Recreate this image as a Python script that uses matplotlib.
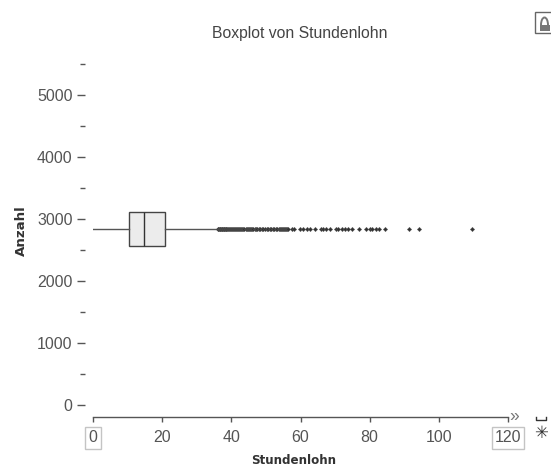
import matplotlib
matplotlib.use("Agg")
import matplotlib.pyplot as plt
from matplotlib.patches import Rectangle, Arc
from matplotlib.lines import Line2D

plt.rcParams['font.family'] = ['Liberation Sans', 'DejaVu Sans']

TITLE = "Boxplot von Stundenlohn"
XLABEL = "Stundenlohn"
YLABEL = "Anzahl"
n_obs = 2838
whisker_low = 0.0
q1 = 10.3
median = 14.8
q3 = 20.7
whisker_high = 36.0
outliers = [
    36.0, 36.2, 36.4, 36.6, 36.8, 37.0, 37.2, 37.4, 37.6, 37.8, 38.0, 38.2,
    38.4, 38.6, 38.8, 39.0, 39.3, 39.6, 39.9, 40.2, 40.5, 40.8, 41.1, 41.4,
    41.7, 42.0, 42.3, 42.6, 42.9, 43.2, 43.5, 43.8, 44.1, 44.4, 44.7, 45.0,
    45.3, 45.6, 45.9, 46.3, 46.7, 47.0, 47.5, 48.0, 48.4, 48.9, 49.3, 49.8,
    50.2, 50.7, 51.1, 51.6, 52.0, 52.4, 52.9, 53.3, 53.7, 54.1, 54.4, 54.7,
    55.0, 55.3, 55.6, 55.9, 56.2, 56.5,
    57.4, 58.1, 59.8, 60.8, 61.8, 62.7, 64.2, 65.8, 66.6, 67.5, 68.5, 70.4,
    70.9, 71.9, 72.8, 73.8, 74.8, 77.0, 78.8, 80.0, 80.8, 81.8, 82.8, 84.4,
    91.4, 94.3, 109.7,
]
x_ticks = [0, 20, 40, 60, 80, 100, 120]
y_major = [0, 1000, 2000, 3000, 4000, 5000]
y_minor = [500, 1500, 2500, 3500, 4500, 5500]

W, H = 551, 467
fig = plt.figure(figsize=(W / 100, H / 100), dpi=100, facecolor='white')
L, R, T, B = 93, 508, 64, 417
ax = fig.add_axes([L / W, 1 - B / H, (R - L) / W, (B - T) / H])
ax.set_xlim(0, 120)
ax.set_ylim(-193, 5500)

stats = [dict(whislo=whisker_low, q1=q1, med=median, q3=q3, whishi=whisker_high, fliers=outliers)]
ax.bxp(stats, positions=[n_obs], widths=[548], orientation='horizontal', showcaps=False,
       patch_artist=True, manage_ticks=False,
       boxprops=dict(facecolor='#ececec', edgecolor='#444444', linewidth=1.0),
       medianprops=dict(color='#333333', linewidth=1.0),
       whiskerprops=dict(color='#555555', linewidth=1.0),
       flierprops=dict(marker='D', markersize=2.2, markerfacecolor='#333333',
                       markeredgecolor='#555555', markeredgewidth=0.3, linestyle='none'))

for s in ['top', 'right', 'left']:
    ax.spines[s].set_visible(False)
ax.spines['bottom'].set_color('#555555')
ax.spines['bottom'].set_linewidth(1.0)
ax.spines['left'].set_position(('outward', 5.8))

ax.set_xticks(x_ticks)
ax.set_yticks(y_major)
ax.set_yticks(y_minor, minor=True)
ax.tick_params(axis='x', length=3.6, width=1, color='#555555', labelcolor='#555555', labelsize=11.5, pad=6)
ax.tick_params(axis='y', which='major', length=5.8, width=1, color='#555555', labelcolor='#555555', labelsize=11.5, pad=3)
ax.tick_params(axis='y', which='minor', length=3.6, width=1, color='#555555', labelleft=False)

labels = ax.get_xticklabels()
box_style = dict(boxstyle='square,pad=0.2', facecolor='white', edgecolor='#c4c4c4', linewidth=1)
labels[0].set_bbox(box_style)
labels[-1].set_bbox(box_style)

fig.text(299.5 / W, 1 - 33.5 / H, TITLE, ha='center', va='center', color='#444444', fontsize=11.3)
fig.text(293.5 / W, 1 - 460 / H, XLABEL, ha='center', va='center', color='#333333',
         fontsize=8.6, fontweight='bold', family='DejaVu Sans')
fig.text(21 / W, 1 - 231 / H, YLABEL, ha='center', va='center', rotation=90, color='#333333',
         fontsize=9.6, fontweight='bold', family='DejaVu Sans')

# interface decorations around the plot
fig.text(514 / W, 1 - 416 / H, "\u00bb", ha='center', va='center', color='#777777', fontsize=12.5)
fig.text(541 / W, 1 - 433 / H, "\u2733", ha='center', va='center', color='#333333', fontsize=12,
         family='DejaVu Sans')
px = lambda x, y: (x / W, 1 - y / H)
bracket = [px(535.5, 417), px(535.5, 420), px(546, 420), px(546, 417)]
fig.add_artist(Line2D([p[0] for p in bracket], [p[1] for p in bracket], color='#333333', lw=1))
bx, by = px(535, 33)
fig.add_artist(Rectangle((bx, by), 17 / W, 21 / H, transform=fig.transFigure, facecolor='white',
                         edgecolor='#666666', linewidth=1))
lx, ly = px(539.5, 31)
fig.add_artist(Rectangle((lx, ly), 10 / W, 6 / H, transform=fig.transFigure, facecolor='#777777', edgecolor='none'))
cx, cy = px(544.5, 25)
fig.add_artist(Arc((cx, cy), 7 / W, 15 / H, theta1=0, theta2=180, transform=fig.transFigure,
                   color='#777777', linewidth=1.4))

fig.savefig('out.png', dpi=100, facecolor='white')
